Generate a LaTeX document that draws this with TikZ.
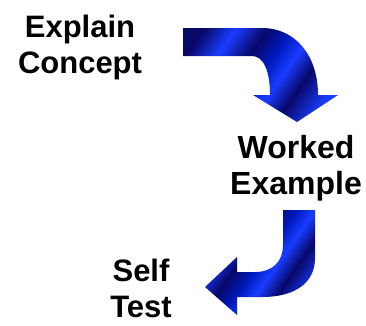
\documentclass[tikz,border=0pt]{standalone}
\usepackage{fontspec}
\setmainfont{Liberation Sans}
\definecolor{mbdark}{RGB}{8,8,105}
\definecolor{mbmid}{RGB}{0,25,190}
\definecolor{mbbright}{RGB}{25,60,255}
\pgfdeclarehorizontalshading{metalblue}{100bp}{color(0bp)=(mbdark); color(22bp)=(mbdark); color(32bp)=(mbbright); color(42bp)=(mbdark); color(50bp)=(mbmid); color(57bp)=(mbbright); color(65bp)=(mbdark); color(76bp)=(mbbright); color(100bp)=(mbbright)}
\begin{document}
\begin{tikzpicture}[x=1pt,y=-1pt]
\tikzset{
  lbl/.style={font=\fontsize{31}{36}\selectfont\bfseries, align=center, inner sep=0pt, text=black},
  bluearrow/.style={shading=metalblue, shading angle=-35, draw=none}
}
\useasboundingbox[fill=white] (0,0) rectangle (366,325);
% arrow 1: Explain Concept -> Worked Example
\path[bluearrow] (183,28) -- (262,28) .. controls (295,28) and (318,55) .. (318,95)
  -- (338,95) -- (297,122) -- (253,95) -- (270,95)
  .. controls (270,72) and (264,56) .. (252,56) -- (183,56) -- cycle;
% arrow 2: Worked Example -> Self Test
\path[bluearrow] (283,210) -- (315,210) -- (315,258)
  .. controls (315,283) and (295,297) .. (262,297) -- (237,297) -- (237,315)
  -- (205,287) -- (237,257) -- (237,272) -- (255,272)
  .. controls (272,272) and (283,262) .. (283,245) -- cycle;
\node[lbl] (explain) at (80,47) {Explain\\Concept};
\node[lbl, font=\fontsize{32}{36}\selectfont\bfseries] (worked) at (296,168) {Worked\\Example};
\node[lbl] (self) at (141,288) {Self\\Test};
\end{tikzpicture}
\end{document}
